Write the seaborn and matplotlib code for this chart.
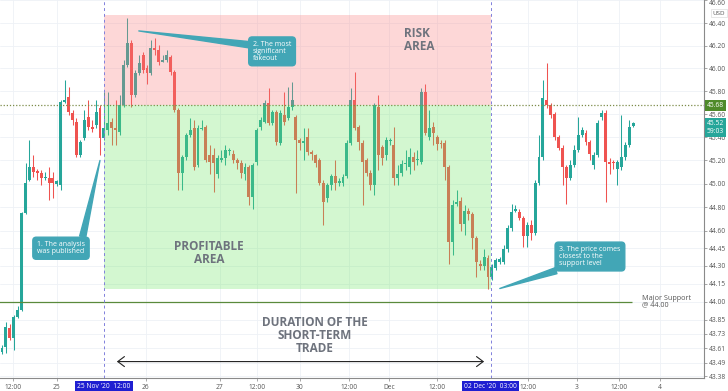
import numpy as np
import seaborn as sns
import matplotlib
matplotlib.use('Agg')
import matplotlib.pyplot as plt
import matplotlib.transforms as mtransforms
from matplotlib.ticker import NullLocator, NullFormatter

# hourly candles (oldest first)
opens = [43.58, 43.62, 43.78, 43.70, 43.87, 43.93, 44.75, 45.03, 45.14, 45.11,
         45.09, 45.05, 45.05, 45.05, 45.00, 44.99, 45.71, 45.75, 45.61, 45.53,
         45.25, 45.39, 45.58, 45.49, 45.51, 45.65, 45.39, 45.46, 45.53, 45.48,
         45.45, 45.68, 46.03, 46.22, 45.77, 45.96, 46.12, 46.00, 45.96, 46.18,
         46.16, 46.06, 46.07, 46.10, 45.97, 45.64, 45.09, 45.23, 45.42, 45.48,
         45.16, 45.47, 45.49, 45.25, 45.25, 45.08, 45.20, 45.22, 45.28, 45.26,
         45.20, 45.18, 45.08, 45.14, 44.89, 45.19, 45.49, 45.53, 45.70, 45.52,
         45.62, 45.35, 45.59, 45.57, 45.66, 45.58, 45.38, 45.35, 45.40, 45.27,
         45.25, 45.20, 45.01, 44.88, 44.99, 45.07, 45.01, 45.01, 45.07, 45.35,
         45.72, 45.49, 45.35, 45.20, 45.09, 44.99, 45.66, 45.32, 45.25, 45.37,
         45.33, 45.05, 45.09, 45.17, 45.14, 45.23, 45.20, 45.19, 45.79, 45.40,
         45.49, 45.40, 45.35, 45.35, 45.14, 44.50, 44.83, 44.85, 44.66, 44.77,
         44.74, 44.54, 44.32, 44.30, 44.37, 44.21, 44.28, 44.33, 44.33, 44.44,
         44.62, 44.77, 44.76, 44.71, 44.55, 44.65, 44.58, 45.01, 45.23, 45.72,
         45.68, 45.60, 45.40, 45.31, 45.14, 45.05, 45.16, 45.29, 45.42, 45.44,
         45.36, 45.16, 45.25, 45.58, 45.61, 45.19, 45.19, 45.13, 45.14, 45.23,
         45.33, 45.50]
highs = [43.64, 43.83, 43.81, 43.89, 43.96, 44.76, 45.18, 45.38, 45.25, 45.13,
         45.12, 45.10, 45.14, 45.10, 45.03, 45.72, 45.90, 45.84, 45.64, 45.57,
         45.38, 45.64, 45.72, 45.55, 45.72, 45.68, 45.79, 45.79, 45.57, 45.72,
         45.77, 46.07, 46.44, 46.25, 45.99, 46.12, 46.14, 46.03, 46.25, 46.27,
         46.21, 46.12, 46.16, 46.12, 45.99, 45.65, 45.25, 45.44, 45.57, 45.55,
         45.51, 45.55, 45.51, 45.33, 45.31, 45.25, 45.29, 45.33, 45.31, 45.29,
         45.22, 45.20, 45.18, 45.16, 45.18, 45.48, 45.58, 45.72, 45.83, 45.64,
         45.64, 45.64, 45.79, 45.84, 45.88, 45.59, 45.39, 45.48, 45.48, 45.29,
         45.26, 45.22, 45.03, 45.01, 45.08, 45.20, 45.05, 45.08, 45.38, 45.83,
         45.97, 45.51, 45.38, 45.22, 45.12, 45.70, 45.77, 45.33, 45.40, 45.39,
         45.49, 45.16, 45.20, 45.29, 45.31, 45.27, 45.29, 45.83, 45.86, 45.64,
         45.53, 45.42, 45.38, 45.38, 45.16, 44.86, 44.95, 44.89, 44.82, 44.79,
         44.76, 44.55, 44.35, 44.44, 44.39, 44.32, 44.37, 44.38, 44.48, 44.65,
         44.83, 44.82, 44.78, 44.72, 44.67, 44.69, 45.03, 45.42, 45.90, 46.05,
         45.70, 45.62, 45.42, 45.33, 45.16, 45.20, 45.33, 45.58, 45.49, 45.46,
         45.38, 45.27, 45.55, 45.64, 45.64, 45.22, 45.20, 45.20, 45.59, 45.36,
         45.55, 45.53]
lows = [43.56, 43.57, 43.68, 43.60, 43.86, 43.92, 44.74, 45.02, 45.06, 45.03,
        44.99, 45.03, 44.86, 44.88, 44.98, 44.95, 45.70, 45.59, 45.51, 45.23,
        45.23, 45.38, 45.46, 45.45, 45.48, 45.25, 45.38, 45.42, 45.33, 45.33,
        45.42, 45.66, 46.01, 45.66, 45.75, 45.94, 45.96, 45.86, 45.94, 46.12,
        46.03, 46.06, 46.06, 45.94, 45.62, 44.95, 44.95, 45.20, 45.40, 45.12,
        45.14, 45.46, 45.19, 45.08, 44.93, 45.05, 45.19, 45.16, 45.25, 45.18,
        45.13, 45.05, 45.03, 44.82, 44.78, 45.16, 45.46, 45.52, 45.51, 45.51,
        45.33, 45.33, 45.51, 45.55, 45.64, 44.92, 45.29, 45.20, 45.25, 45.20,
        45.14, 44.99, 44.65, 44.84, 44.95, 44.95, 44.98, 44.98, 45.05, 45.33,
        45.46, 45.29, 44.82, 45.07, 44.95, 44.90, 45.12, 45.16, 45.20, 45.33,
        44.99, 44.99, 45.07, 45.12, 45.08, 45.12, 45.16, 45.17, 45.42, 45.38,
        45.33, 45.29, 45.31, 45.03, 44.32, 44.39, 44.81, 44.60, 44.56, 44.69,
        44.44, 44.21, 44.27, 44.27, 44.11, 44.18, 44.27, 44.32, 44.32, 44.42,
        44.60, 44.76, 44.69, 44.46, 44.46, 44.52, 44.56, 44.99, 45.20, 45.65,
        45.57, 45.38, 45.29, 44.99, 44.83, 45.03, 45.14, 45.27, 45.40, 45.33,
        45.20, 45.13, 45.23, 45.55, 44.84, 45.08, 45.13, 44.99, 45.12, 45.20,
        45.32, 45.49]
closes = [43.61, 43.79, 43.70, 43.87, 43.93, 44.75, 45.01, 45.14, 45.10, 45.09,
          45.05, 45.06, 45.01, 45.01, 45.02, 45.71, 45.72, 45.62, 45.55, 45.25,
          45.36, 45.55, 45.49, 45.47, 45.62, 45.39, 45.48, 45.52, 45.48, 45.46,
          45.68, 46.03, 46.22, 45.77, 45.96, 46.05, 45.99, 45.96, 46.18, 46.16,
          46.06, 46.07, 46.12, 45.97, 45.64, 45.09, 45.23, 45.42, 45.46, 45.14,
          45.48, 45.48, 45.20, 45.19, 45.18, 45.22, 45.22, 45.29, 45.29, 45.20,
          45.18, 45.09, 45.14, 44.89, 45.16, 45.46, 45.55, 45.70, 45.52, 45.62,
          45.36, 45.61, 45.53, 45.66, 45.72, 45.38, 45.35, 45.37, 45.27, 45.26,
          45.18, 45.01, 44.84, 44.99, 45.07, 45.01, 45.02, 45.06, 45.35, 45.72,
          45.48, 45.36, 45.19, 45.09, 44.99, 45.68, 45.25, 45.22, 45.38, 45.38,
          45.05, 45.08, 45.17, 45.18, 45.23, 45.19, 45.21, 45.79, 45.44, 45.48,
          45.44, 45.34, 45.34, 45.14, 44.50, 44.82, 44.84, 44.66, 44.77, 44.74,
          44.54, 44.33, 44.30, 44.38, 44.21, 44.29, 44.35, 44.36, 44.44, 44.62,
          44.76, 44.78, 44.71, 44.55, 44.65, 44.58, 45.01, 45.23, 45.74, 45.68,
          45.59, 45.40, 45.31, 45.14, 45.05, 45.16, 45.29, 45.42, 45.46, 45.36,
          45.26, 45.25, 45.52, 45.61, 45.19, 45.17, 45.18, 45.19, 45.23, 45.33,
          45.49, 45.52]

# axis labels
xtick_pos = [2.8, 14.0, 36.7, 55.6, 65.1, 76.0, 88.5, 98.7, 111.0, 134.2, 146.7, 157.4, 167.9]
xtick_labels = ['12:00', '25', '26', '27', '12:00', '30', '12:00', 'Dec', '12:00', '12:00', '3', '12:00', '4']
yticks = [46.60, 46.40, 46.20, 46.00, 45.80, 45.60, 45.40, 45.20, 45.00, 44.80, 44.60,
          44.45, 44.30, 44.15, 44.00, 43.85, 43.73, 43.61, 43.49, 43.38]

# trade levels / times
trade_start = 26.0      # 25 Nov '20 12:00
trade_end = 124.7       # 02 Dec '20 03:00
entry_level = 45.68
risk_top = 46.47
profit_bottom = 44.11
support = 44.00
last_price = 45.52

sns.set_theme(style='whitegrid')
plt.rcParams['font.family'] = ['Open Sans', 'DejaVu Sans']

up_col = '#26a69a'
down_col = '#ef5350'
teal = '#42a6b6'
grey_txt = '#6e737d'

fig = plt.figure(figsize=(7.28, 3.91), dpi=100)
ax = fig.add_axes([0, 13 / 391, 704 / 728, 378 / 391])
ax.set_facecolor('white')

o = np.array(opens)
h = np.array(highs)
l = np.array(lows)
c = np.array(closes)
x = np.arange(len(o))
cols = np.where(c >= o, up_col, down_col)

# candles
ax.vlines(x, l, h, color=cols, lw=0.75, zorder=2)
body = np.maximum(np.abs(c - o), 0.008)
ax.bar(x, body, bottom=np.minimum(o, c), width=0.75, color=cols, linewidth=0, zorder=2)

# risk / profit zones drawn over the candles
ax.fill_between([trade_start, trade_end], entry_level, risk_top, color='#fa7d7d', alpha=0.3, lw=0, zorder=3)
ax.fill_between([trade_start, trade_end], profit_bottom, entry_level, color='#6ee664', alpha=0.3, lw=0, zorder=3)

# lines
ax.axhline(entry_level, color='#7d8c4a', ls=(0, (1, 1.5)), lw=0.9, zorder=4)
ax.hlines(support, -1, 160.7, color='#5a8a3c', lw=0.9, zorder=4)
for t in [trade_start, trade_end]:
    ax.axvline(t, color='#8080dc', ls=(0, (3, 3)), lw=0.7, zorder=4)

ax.annotate('', xy=(29.3, 43.50), xytext=(123.0, 43.50),
            arrowprops=dict(arrowstyle='<->,head_length=0.4,head_width=0.3', color='#222222',
                            lw=0.8, shrinkA=0, shrinkB=0), zorder=5)

# big labels
ax.text(102.6, 46.25, 'RISK\nAREA', ha='left', va='center', fontsize=8.5, fontweight='bold',
        color=grey_txt, linespacing=1.0, zorder=5)
ax.text(52.8, 44.41, 'PROFITABLE\nAREA', ha='center', va='center', fontsize=8.5, fontweight='bold',
        color=grey_txt, linespacing=1.0, zorder=5)
ax.text(79.8, 43.72, 'DURATION OF THE\nSHORT-TERM\nTRADE', ha='center', va='center', fontsize=8.5,
        fontweight='bold', color=grey_txt, linespacing=1.0, zorder=5)
ax.text(163.3, support, 'Major Support\n@ 44.00', ha='left', va='center', fontsize=5.2,
        color='#555555', linespacing=0.95, zorder=5)

# callouts
callouts = [('1. The analysis\nwas published', (25.0, 45.20), (15.05, 44.45), (0.93, 1.0)),
            ('2. The most\nsignificant\nfakeout', (34.9, 46.33), (68.9, 46.15), (0.0, 0.8)),
            ('3. The price comes\nclosest to the\nsupport level', (127.0, 44.11), (150.0, 44.38), (0.15, 0.0))]
for txt, tip, pos, rp in callouts:
    ax.annotate(txt, xy=tip, xytext=pos, ha='center', va='center', multialignment='left',
                fontsize=5, color='white', linespacing=0.95,
                bbox=dict(boxstyle='round,pad=0.6,rounding_size=0.5', fc=teal, ec=teal),
                arrowprops=dict(arrowstyle='wedge,tail_width=0.9,shrink_factor=0.5', fc=teal, ec=teal,
                                relpos=rp, shrinkA=0, shrinkB=0),
                zorder=6)

# axes
ax.set_yscale('log')
ax.set_ylim(43.364, 46.604)
ax.set_xlim(-0.51, 179.1)
ax.set_yticks(yticks)
# top label is drawn separately so it stays inside the picture
ax.set_yticklabels([''] + ['%.2f' % v for v in yticks[1:]])
ax.yaxis.set_minor_locator(NullLocator())
ax.yaxis.set_minor_formatter(NullFormatter())
ax.yaxis.tick_right()
ax.set_xticks(xtick_pos)
ax.set_xticklabels(xtick_labels)
ax.tick_params(axis='y', which='major', right=True, length=2, width=0.6, color='#999999',
               labelsize=4.8, labelcolor='#555555', pad=1.5)
ax.tick_params(axis='x', bottom=True, length=2, width=0.6, color='#999999',
               labelsize=4.8, labelcolor='#555555', pad=2.5)
ax.grid(True, color='#eef1f6', lw=0.6)
ax.set_axisbelow(True)
for side in ['left', 'top']:
    ax.spines[side].set_visible(False)
for side in ['right', 'bottom']:
    ax.spines[side].set_color('#8a8a8a')
    ax.spines[side].set_linewidth(0.8)

rt = mtransforms.blended_transform_factory(ax.transAxes, ax.transData)
ax.text(1.007, yticks[0], '%.2f' % yticks[0], transform=rt, ha='left', va='top', fontsize=4.8,
        color='#555555', clip_on=False)

# highlighted time labels
bt = mtransforms.blended_transform_factory(ax.transData, ax.transAxes)
for t, lab in [(trade_start, "25 Nov '20  12:00"), (trade_end, "02 Dec '20  03:00")]:
    ax.text(t, -0.012, lab, transform=bt, ha='center', va='top', fontsize=4.8, color='white',
            bbox=dict(boxstyle='square,pad=0.3', fc='#1f1fd1', ec='none'), clip_on=False, zorder=7)

# price labels on the right scale
for val, lab, fc in [(entry_level, '45.68', '#4f8a2a'), (last_price, '45.52', up_col), (45.45, '59:03', up_col)]:
    ax.text(1.004, val, lab, transform=rt, ha='left', va='center', fontsize=4.8, color='white',
            bbox=dict(boxstyle='square,pad=0.3', fc=fc, ec='none'), clip_on=False, zorder=7)
ax.text(1.012, 0.972, 'USD', transform=ax.transAxes, ha='left', va='top', fontsize=4.5, color='#555555',
        bbox=dict(boxstyle='square,pad=0.25', fc='white', ec='#dddddd', lw=0.5), clip_on=False, zorder=7)

fig.savefig('out.png', dpi=100)
